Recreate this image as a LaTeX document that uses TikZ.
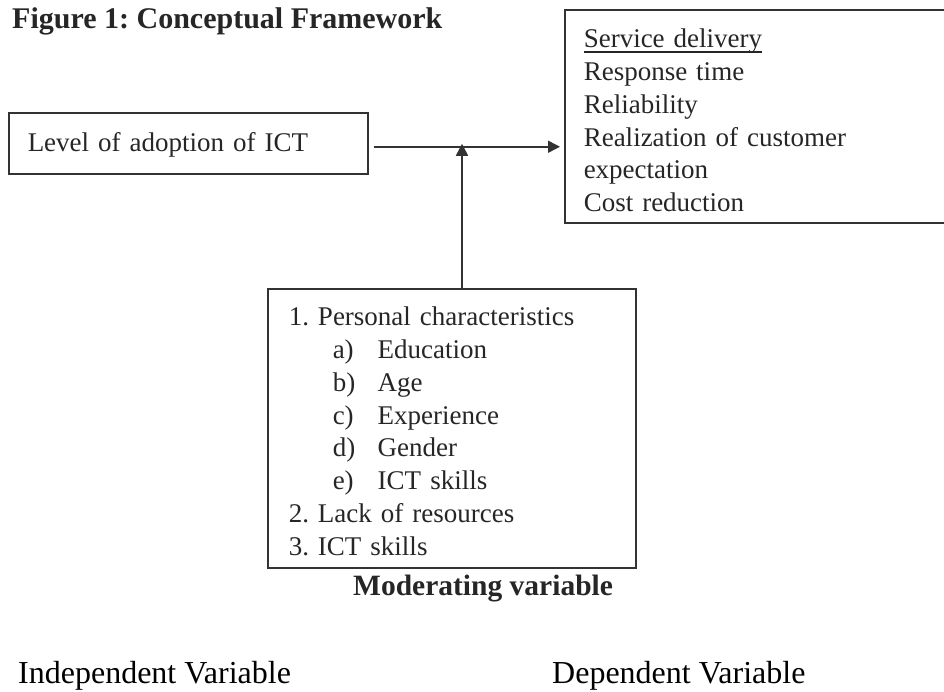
\documentclass[tikz,border=0pt]{standalone}
\usepackage{fontspec}
\setmainfont{Liberation Serif}
\usetikzlibrary{arrows.meta,calc}
\frenchspacing
\newcommand\myul[1]{\setbox0\hbox{#1}\rlap{\rule[-5pt]{\wd0}{1.2pt}}\box0}
\begin{document}
\begin{tikzpicture}[x=1pt,y=-1pt,
  boxst/.style={draw=black!80, line width=1.5pt, rectangle, anchor=north west, inner sep=0pt},
  body/.style={font=\frenchspacing\fontsize{27}{32.8}\selectfont, text=black!85},
  lbl/.style={anchor=base west, inner sep=0pt},
  arr/.style={draw=black!80, line width=1.5pt, -{Triangle[length=12pt,width=12pt]}}]
\useasboundingbox (0,0) rectangle (944,691);

\node[lbl, font=\frenchspacing\bfseries\fontsize{30}{36}\selectfont, text=black!85] (title) at (12,28) {Figure 1: Conceptual Framework};

\node[boxst, body, minimum width=359pt, minimum height=61pt, text width=321pt, align=left, inner xsep=19pt] (iv) at (8,112) {\rule{0pt}{22pt}Level of adoption of ICT};

\node[boxst, body, minimum width=400pt, minimum height=213pt, text width=362pt, align=left, inner xsep=19pt] (dv) at (564,9)
{\rule{0pt}{27pt}\myul{Service delivery}\\Response time\\Reliability\\Realization of customer\\expectation\\Cost reduction};

\node[boxst, body, minimum width=368pt, minimum height=279pt, text width=326pt, align=left, inner xsep=21pt] (mv) at (267,288)
{\rule{0pt}{25pt}1. Personal characteristics\\
\hspace*{44pt}\makebox[45pt][l]{a)}Education\\
\hspace*{44pt}\makebox[45pt][l]{b)}Age\\
\hspace*{44pt}\makebox[45pt][l]{c)}Experience\\
\hspace*{44pt}\makebox[45pt][l]{d)}Gender\\
\hspace*{44pt}\makebox[45pt][l]{e)}ICT skills\\
2. Lack of resources\\
3. ICT skills};

\node[lbl, font=\bfseries\fontsize{29.5}{35}\selectfont, text=black!85] (mlab) at (353,595) {Moderating variable};

\node[lbl, font=\fontsize{32}{38}\selectfont] (indep) at (18,683) {Independent Variable};
\node[lbl, font=\fontsize{32}{38}\selectfont] (dep) at (552,683) {Dependent Variable};

\coordinate (a1) at ([yshift=-3.5pt]iv.east);
\coordinate (a2) at (a1 -| dv.west);
\draw[arr, shorten <=5pt, shorten >=4pt] (a1) -- (a2);
\coordinate (m1) at (462,288);
\draw[arr, shorten >=-3pt] (m1) -- (m1 |- a1);
\end{tikzpicture}
\end{document}
